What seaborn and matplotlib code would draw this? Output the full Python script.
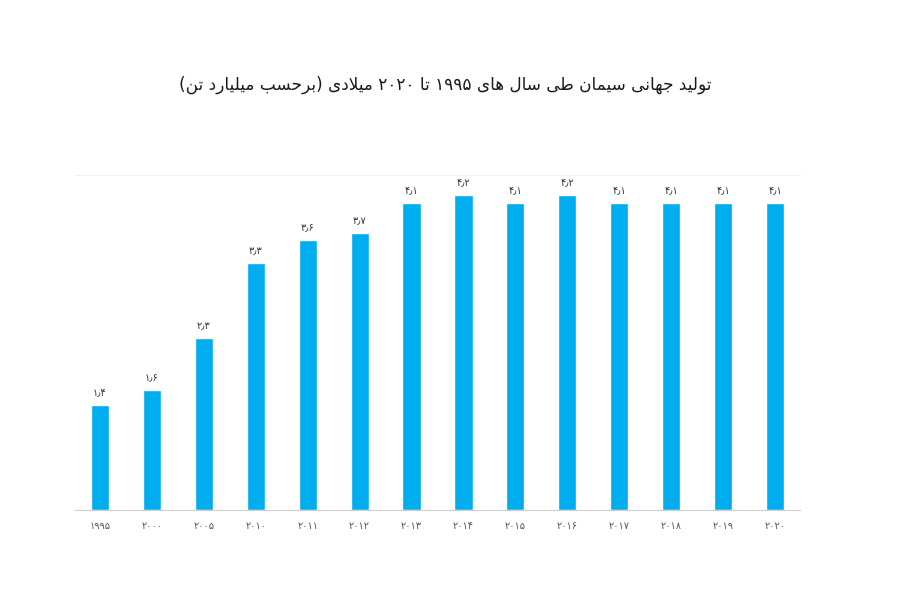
import matplotlib
matplotlib.use("Agg")
import matplotlib.pyplot as plt
import numpy as np
import pandas as pd
import seaborn as sns

# ---------------- data ----------------
years = ["1995", "2000", "2005", "2010", "2011", "2012", "2013",
         "2014", "2015", "2016", "2017", "2018", "2019", "2020"]
production = [1.4, 1.6, 2.3, 3.3, 3.6, 3.7, 4.1, 4.2, 4.1, 4.2, 4.1, 4.1, 4.1, 4.1]
title_text = "تولید جهانی سیمان طی سال های ۱۹۹۵ تا ۲۰۲۰ میلادی (برحسب میلیارد تن)"

# ---------------- helpers for Persian text ----------------
FA_DIGITS = str.maketrans("0123456789", "۰۱۲۳۴۵۶۷۸۹")


def fa_num(s):
    return str(s).translate(FA_DIGITS)


# isolated, final, initial, medial
FORMS = {
    "ا": ("\uFE8D", "\uFE8E", None, None),
    "ب": ("\uFE8F", "\uFE90", "\uFE91", "\uFE92"),
    "ت": ("\uFE95", "\uFE96", "\uFE97", "\uFE98"),
    "ج": ("\uFE9D", "\uFE9E", "\uFE9F", "\uFEA0"),
    "ح": ("\uFEA1", "\uFEA2", "\uFEA3", "\uFEA4"),
    "د": ("\uFEA9", "\uFEAA", None, None),
    "ر": ("\uFEAD", "\uFEAE", None, None),
    "س": ("\uFEB1", "\uFEB2", "\uFEB3", "\uFEB4"),
    "ط": ("\uFEC1", "\uFEC2", "\uFEC3", "\uFEC4"),
    "ل": ("\uFEDD", "\uFEDE", "\uFEDF", "\uFEE0"),
    "م": ("\uFEE1", "\uFEE2", "\uFEE3", "\uFEE4"),
    "ن": ("\uFEE5", "\uFEE6", "\uFEE7", "\uFEE8"),
    "ه": ("\uFEE9", "\uFEEA", "\uFEEB", "\uFEEC"),
    "و": ("\uFEED", "\uFEEE", None, None),
    "ی": ("\uFBFC", "\uFBFD", "\uFBFE", "\uFBFF"),
}
DUAL = {c for c, f in FORMS.items() if f[2] is not None}
RIGHT = {c for c, f in FORMS.items() if f[2] is None}
MIRROR = {"(": ")", ")": "("}


def shape(text):
    chars = list(text)
    out = []
    i = 0
    n = len(chars)
    while i < n:
        c = chars[i]
        prev = chars[i - 1] if i > 0 else ""
        nxt = chars[i + 1] if i + 1 < n else ""
        jp = prev in DUAL and c in FORMS
        if c == "ل" and nxt == "ا":
            out.append("\uFEFC" if jp else "\uFEFB")
            i += 2
            continue
        if c in FORMS:
            jn = c in DUAL and (nxt in DUAL or nxt in RIGHT)
            iso, fin, ini, med = FORMS[c]
            if jp and jn:
                out.append(med)
            elif jp:
                out.append(fin)
            elif jn:
                out.append(ini)
            else:
                out.append(iso)
        else:
            out.append(MIRROR.get(c, c))
        i += 1
    # visual order: reverse, but keep digit runs left-to-right
    rev = out[::-1]
    res = []
    run = []
    for ch in rev:
        if ch in "۰۱۲۳۴۵۶۷۸۹٫.":
            run.append(ch)
        else:
            if run:
                res.extend(run[::-1])
                run = []
            res.append(ch)
    if run:
        res.extend(run[::-1])
    return "".join(res)


# ---------------- plot ----------------
sns.set_style("white")
plt.rcParams["font.family"] = ["DejaVu Sans"]

df = pd.DataFrame({"year": years, "value": production})

fig = plt.figure(figsize=(9, 6), dpi=100)
ax = fig.add_axes([75 / 900, 90 / 600, 725 / 900, 335 / 600])

sns.barplot(data=df, x="year", y="value", color="#00AEEF", saturation=1,
            width=0.35, ax=ax)

ax.set_xlim(-0.48, len(years) - 1 + 0.48)
ax.set_ylim(0, 4.47)

labels = [fa_num(f"{v:.1f}").replace(".", "٫") for v in production]
ax.bar_label(ax.containers[0], labels=labels, padding=5, fontsize=7,
             color="#333333")

ax.set_xticks(range(len(years)))
ax.set_xticklabels([fa_num(y) for y in years], fontsize=7, color="#555555")
ax.tick_params(axis="x", length=0, pad=8)
ax.set_yticks([])
ax.set_xlabel("")
ax.set_ylabel("")

for s in ["left", "right"]:
    ax.spines[s].set_visible(False)
ax.spines["top"].set_color("#f3f3ea")
ax.spines["top"].set_linewidth(0.8)
ax.spines["bottom"].set_color("#cfcfcf")
ax.spines["bottom"].set_linewidth(0.8)

fig.text(445 / 900, 1 - 85 / 600, shape(title_text), ha="center", va="center",
         fontsize=12.2, color="#1a1a1a")

fig.savefig("out.png", dpi=100, facecolor="white")
